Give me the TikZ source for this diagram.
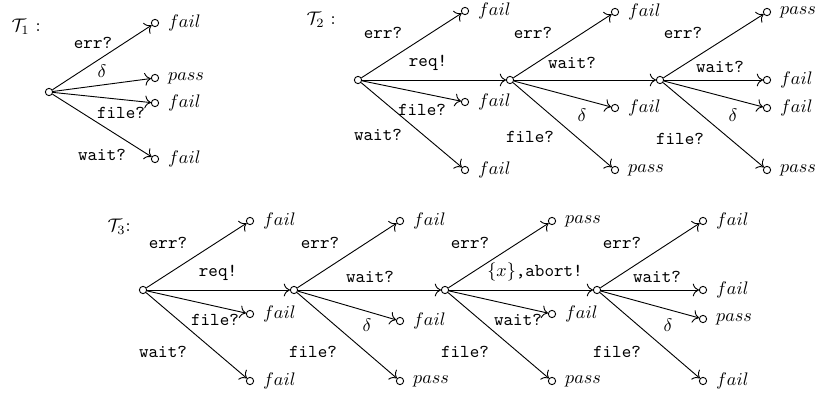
\documentclass[tikz,border=0pt]{standalone}
\usetikzlibrary{arrows.meta}
\begin{document}
\begin{tikzpicture}[x=.55pt,y=-.55pt,>={To[scale=1.25]},line width=.5pt,line join=round,
  st/.style={circle,draw,inner sep=0pt,minimum size=4pt},
  lf/.style={st,label={[label distance=1.4pt]right:$#1$}},
  lbl/.style={inner sep=1pt,font=\ttfamily}]
	\useasboundingbox (0,0) rectangle (825,394);
	% tree titles
	\node[anchor=west] (t1) at (5,27) {$\mathcal{T}_1$ :};
	\node[anchor=west] (t2) at (300,20) {$\mathcal{T}_2$ :};
	\node[anchor=west] (t3) at (101,227) {$\mathcal{T}_3$:};
	% inner states
	\foreach \n/\x/\y in {r1/49/92,r2/358/80,s2/510/80,s3/660/80,r3/143/290,s4/294/290,s5/445/290,s6/597/290}
		\node[st] (\n) at (\x,\y) {};
	% verdict leaves
	\foreach \n/\x/\y/\v in {a1/155/23/fail,a2/155/78/pass,a3/155/103/fail,a4/155/159/fail,
		b1/465/11/fail,b2/465/102/fail,b3/465/170/fail,
		c1/615/12/fail,c2/615/108/fail,c3/615/170/pass,
		d1/767/12/pass,d2/767/80/fail,d3/767/108/fail,d4/767/170/pass,
		e1/250/221/fail,e2/250/314/fail,e3/250/381/fail,
		f1/400/221/fail,f2/400/321/fail,f3/400/381/pass,
		g1/552/221/pass,g2/552/314/fail,g3/552/381/pass,
		h1/703/221/fail,h2/703/290/fail,h3/703/319/pass,h4/703/381/fail}
		\node[lf=\v] (\n) at (\x,\y) {};
	% transitions and their labels
	\foreach \s/\t/\lx/\ly/\txt in {r1/a1/93/43/err?,r1/a2/102/71/$\delta$,r1/a3/121/113/file?,r1/a4/102/155/wait?,
		r2/b1/383/33/err?,r2/s2/428/63/req!,r2/b2/422/110/file?,r2/b3/378/135/wait?,
		s2/c1/533/33/err?,s2/s3/572/63/wait?,s2/c2/582/115/$\delta$,s2/c3/530/137/file?,
		s3/d1/683/33/err?,s3/d2/720/67/wait?,s3/d3/733/115/$\delta$,s3/d4/680/139/file?,
		r3/e1/168/243/err?,r3/s4/218/273/req!,r3/e2/215/320/file?,r3/e3/163/352/wait?,
		s4/f1/320/243/err?,s4/s5/370/277/wait?,s4/f2/367/325/$\delta$,s4/f3/313/352/file?,
		s5/g1/470/243/err?,s5/s6/535/272/{$\{x\}$,abort!},s5/g2/518/320/wait?,s5/g3/465/352/file?,
		s6/h1/622/243/err?,s6/h2/657/277/wait?,s6/h3/668/325/$\delta$,s6/h4/617/352/file?}
	{
		\draw[->] (\s) -- (\t);
		\node[lbl] (l\t) at (\lx,\ly) {\txt};
	}
\end{tikzpicture}
\end{document}
